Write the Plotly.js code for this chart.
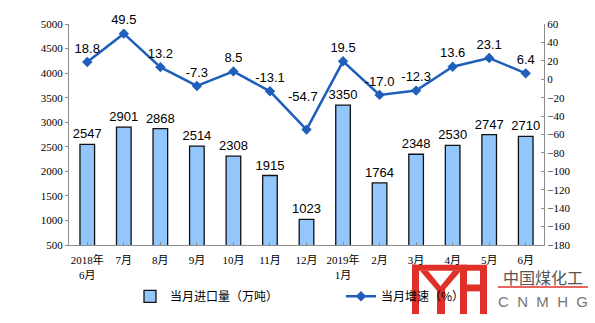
<!DOCTYPE html>
<html>
<head>
<meta charset="utf-8">
<script src="https://cdn.plot.ly/plotly-3.0.1.min.js"></script>
<style>html,body{margin:0;padding:0;background:#fff;}#chart{width:595px;height:323px;}</style>
</head>
<body>
<div id="chart"></div>
<script>
var categories = ["2018年<br>6月","7月","8月","9月","10月","11月","12月","2019年<br>1月","2月","3月","4月","5月","6月"];
var importVolume = [2547, 2901, 2868, 2514, 2308, 1915, 1023, 3350, 1764, 2348, 2530, 2747, 2710];
var growthRate = [18.8, 49.5, 13.2, -7.3, 8.5, -13.1, -54.7, 19.5, -17.0, -12.3, 13.6, 23.1, 6.4];
var barName = "当月进口量（万吨）";
var lineName = "当月增速（%）";

var xs = categories.map(function(c, i){ return i; });
var minIdx = growthRate.indexOf(Math.min.apply(null, growthRate));

var labelFont = {family: "Liberation Sans, Arial, sans-serif", size: 13, color: "#000"};

var bars = {
  type: "bar", name: barName, x: xs, y: importVolume,
  width: 0.4, legend: "legend",
  marker: {color: "#93C6FA", line: {color: "#111111", width: 1.3}},
  text: importVolume.map(String), textposition: "outside",
  textfont: labelFont,
  constraintext: "none", cliponaxis: false, hoverinfo: "none"
};
var line = {
  type: "scatter", mode: "lines+markers+text", name: lineName, x: xs, y: growthRate,
  yaxis: "y2", legend: "legend2",
  line: {color: "#1F5FBB", width: 2.5},
  marker: {symbol: "diamond", size: 8, color: "#1F5FBB"},
  text: growthRate.map(function(v, i){ return i === minIdx ? "" : v.toFixed(1); }),
  textposition: "top center",
  textfont: labelFont,
  cliponaxis: false, hoverinfo: "none"
};

var tickFont = {family: "Liberation Serif, Noto Sans CJK SC, serif", size: 11, color: "#000"};

var red = "#E0302A";
function px(x){ return (x - 69) / 475; }
function py(y){ return (248 - y) / 224; }
function rect(x0, y0, x1, y1){
  return {type: "rect", xref: "paper", yref: "paper", layer: "above",
    x0: px(x0), x1: px(x1), y0: py(y1), y1: py(y0),
    fillcolor: red, line: {width: 0}};
}
function poly(pts){
  var d = pts.map(function(p, i){ return (i ? "L" : "M") + px(p[0]) + "," + py(p[1]); }).join(" ") + " Z";
  return {type: "path", xref: "paper", yref: "paper", layer: "above", path: d, fillcolor: red, line: {width: 0}};
}

var shapes = [
  rect(412, 268, 480, 274),
  rect(412, 268, 419, 318),
  poly([[420,274],[428,274],[444,294],[437,294]]),
  poly([[461,274],[453,274],[437,294],[444,294]]),
  rect(437, 290, 445, 318),
  rect(460, 268, 467, 318),
  rect(480, 268, 487, 318),
  rect(467, 288, 480, 295),
  {type: "line", xref: "paper", yref: "paper", layer: "above",
   x0: px(498), x1: px(588), y0: py(290.5), y1: py(290.5), line: {color: red, width: 1.5}}
];

var legendFont = {family: "Noto Sans CJK SC, sans-serif", size: 12, color: "#000"};

var layout = {
  width: 595, height: 323,
  margin: {l: 69, r: 51, t: 24, b: 75},
  paper_bgcolor: "#fff", plot_bgcolor: "#fff",
  showlegend: true,
  legend: {orientation: "h", x: px(130), xanchor: "left", y: py(300), yanchor: "middle",
    font: legendFont, bgcolor: "rgba(0,0,0,0)"},
  legend2: {orientation: "h", x: px(341), xanchor: "left", y: py(300), yanchor: "middle",
    font: legendFont, bgcolor: "rgba(0,0,0,0)"},
  xaxis: {
    tickmode: "array", tickvals: xs, ticktext: categories,
    range: [-0.5, 12.5], showgrid: false, zeroline: false,
    showline: true, linecolor: "#8c8c8c", linewidth: 1,
    ticks: "inside", ticklen: 3, tickcolor: "#8c8c8c", tickson: "boundaries",
    ticklabelstandoff: 5,
    tickfont: tickFont, fixedrange: true, automargin: false
  },
  yaxis: {
    range: [500, 5000], dtick: 500, tick0: 500, showgrid: false, zeroline: false,
    showline: true, linecolor: "#8c8c8c", linewidth: 1,
    ticks: "outside", ticklen: 3, tickcolor: "#8c8c8c",
    tickfont: tickFont, fixedrange: true, automargin: false
  },
  yaxis2: {
    overlaying: "y", side: "right",
    range: [-180, 60], dtick: 20, tick0: 0, showgrid: false, zeroline: false,
    showline: true, linecolor: "#8c8c8c", linewidth: 1,
    ticks: "inside", ticklen: 3, tickcolor: "#8c8c8c",
    tickfont: tickFont, fixedrange: true, automargin: false
  },
  bargap: 0.6,
  shapes: shapes,
  annotations: [
    {x: xs[minIdx], y: growthRate[minIdx], yref: "y2", xref: "x",
     text: growthRate[minIdx].toFixed(1), showarrow: false,
     xshift: -4, yshift: 33, font: labelFont},
    {xref: "paper", yref: "paper", x: px(543), y: py(280), xanchor: "center", yanchor: "middle",
     text: "中国煤化工", showarrow: false, borderpad: 0,
     font: {family: "Noto Sans CJK SC, sans-serif", size: 16, color: "#555"}},
    {xref: "paper", yref: "paper", x: px(543), y: py(305), xanchor: "center", yanchor: "middle",
     text: "C  N  M  H  G", showarrow: false, borderpad: 0,
     font: {family: "Liberation Sans, Arial, sans-serif", size: 15, color: "#777"}}
  ]
};

Plotly.newPlot("chart", [bars, line], layout, {displayModeBar: false, staticPlot: true});
</script>
</body>
</html>
